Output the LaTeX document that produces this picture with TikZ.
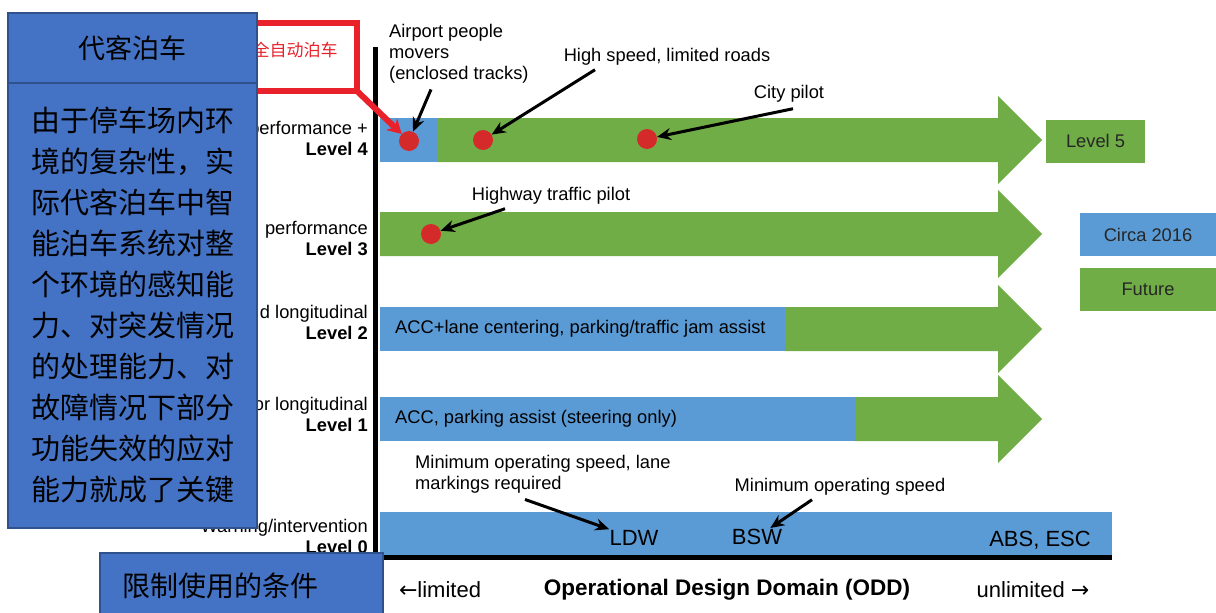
\documentclass[tikz,border=0pt]{standalone}
\usepackage{fontspec}
\setmainfont{Liberation Sans}
\newfontfamily\cjk{Noto Sans CJK SC}
\newfontfamily\symfont{DejaVu Sans}
\usetikzlibrary{arrows.meta,positioning}
\definecolor{barblue}{HTML}{5B9BD5}
\definecolor{bargreen}{HTML}{70AD47}
\definecolor{boxblue}{HTML}{4472C4}
\definecolor{boxedge}{HTML}{2F528F}
\definecolor{dotred}{HTML}{D42A2A}
\definecolor{framered}{HTML}{E8212B}

\begin{document}
\begin{tikzpicture}[
  x=1pt, y=-1pt,
  font=\fontsize{18.3}{21}\selectfont,
  txt/.style={inner sep=0pt, align=left},
  lvl/.style={inner sep=0pt, align=right, anchor=east},
  tag/.style={inner sep=1pt, font=\fontsize{22}{24}\selectfont},
  legend/.style={inner sep=0pt, minimum height=43pt, text=black!85},
  dot/.style={circle, fill=dotred, minimum size=20pt, inner sep=0pt},
  ann/.style={-{Stealth[length=14pt, width=12pt]}, line width=3pt},
  valet/.style={draw=boxedge, line width=2pt, fill=boxblue, inner sep=0pt,
                outer sep=0pt, minimum width=249pt, align=center},
  >={Stealth[length=12pt]}
]
\useasboundingbox (0,0) rectangle (1216,613);

% level labels on the left of the axis
\node[lvl] (lab4) at (368,138) {performance +\\\textbf{Level 4}};
\node[lvl] (lab3) at (368,238) {performance\\\textbf{Level 3}};
\node[lvl] (lab2) at (368,322) {d longitudinal\\\textbf{Level 2}};
\node[lvl] (lab1) at (368,414) {or longitudinal\\\textbf{Level 1}};
\node[lvl] (lab0) at (368,536) {Warning/intervention\\\textbf{Level 0}};

% red frame
\node[txt, text=framered, font=\fontsize{17}{20}\selectfont] (autopark) at (295,50) {\cjk 全自动泊车};
\draw[framered, line width=6pt] (240,23) -- (357,23) -- (357,91) -- (240,91);
\coordinate (redcorner) at (357,91);

% green arrows (future)
\foreach \yc/\xs in {140/437, 234/380, 329/785, 419/855}
  \fill[bargreen] (\xs,\yc-22) -- (998,\yc-22) -- (998,\yc-44) -- (1042,\yc)
    -- (998,\yc+44) -- (998,\yc+22) -- (\xs,\yc+22) -- cycle;

% blue bars (circa 2016)
\fill[barblue] (380,118) rectangle (437,162);
\fill[barblue] (380,307) rectangle (785,351);
\fill[barblue] (380,397) rectangle (855,441);
\fill[barblue] (380,512) rectangle (1112,555);

\node[txt, anchor=west] (acc2) at (395,329) {ACC+lane centering, parking/traffic jam assist};
\node[txt, anchor=west] (acc1) at (395,419) {ACC, parking assist (steering only)};

\node[tag] (ldw) at (634,538) {LDW};
\node[tag] (bsw) at (757,537) {BSW};
\node[tag] (absesc) at (1040,540) {ABS, ESC};

% axes
\draw[line width=5pt] (375,47) -- (375,557) -- (1112,557);

% legend
\node[legend, fill=bargreen, minimum width=99pt] (lev5) at (1095.5,141) {Level 5};
\node[legend, fill=barblue, minimum width=136pt] (circa) at (1148,234.5) {Circa 2016};
\node[legend, fill=bargreen, minimum width=136pt] (future) at (1148,289) {Future};

% examples
\node[dot] (d4a) at (409,141) {};
\node[dot] (d4b) at (483,140) {};
\node[dot] (d4c) at (647,139) {};
\node[dot] (d3a) at (431,234) {};

\node[txt, anchor=north west] (airport) at (389,24) {Airport people\\movers\\(enclosed tracks)};
\node[txt] (highspeed) at (667,57) {High speed, limited roads};
\node[txt] (city) at (789,94) {City pilot};
\node[txt] (highway) at (551,196) {Highway traffic pilot};
\node[txt, anchor=north west] (lanemark) at (415,455) {Minimum operating speed, lane\\markings required};
\node[txt] (minspeed) at (840,487) {Minimum operating speed};

\draw[ann] ([xshift=42pt,yshift=-6pt]airport.south west) -- (d4a);
\draw[ann] ([xshift=-72pt,yshift=-4pt]highspeed.south) -- (d4b);
\draw[ann] ([xshift=4pt,yshift=-6pt]city.south) -- (d4c);
\draw[ann] ([xshift=-46pt,yshift=-4pt]highway.south) -- (d3a);
\draw[ann] ([xshift=110pt,yshift=-6pt]lanemark.south west) -- (ldw);
\draw[ann] ([xshift=-28pt,yshift=-4pt]minspeed.south) -- (bsw);
\draw[framered, line width=6pt, -{Stealth[length=14pt, width=16pt]}] (redcorner) -- (d4a);

% ODD axis labels
\node[txt, font=\fontsize{22}{24}\selectfont] (limited) at (440,590) {{\symfont ←}limited};
\node[txt, font=\fontsize{22.5}{24}\selectfont\bfseries] (odd) at (727,590) {Operational Design Domain (ODD)};
\node[txt, font=\fontsize{22}{24}\selectfont] (unlimited) at (1033,590) {unlimited {\symfont →}};

% valet parking boxes
\node[valet, minimum height=70pt, font=\cjk\fontsize{27}{32}\selectfont] (valettitle) at (132.5,48) {代客泊车};
\node[valet, minimum height=445pt, below=0pt of valettitle,
      font=\cjk\fontsize{29}{41}\selectfont]
  (valetbody) {由于停车场内环\\境的复杂性，实\\际代客泊车中智\\能泊车系统对整\\个环境的感知能\\力、对突发情况\\的处理能力、对\\故障情况下部分\\功能失效的应对\\能力就成了关键};
\node[valet, minimum width=283pt, minimum height=66pt, text width=239pt,
      inner xsep=22pt, align=left, font=\cjk\fontsize{28}{32}\selectfont]
  (limits) at (241.5,586) {限制使用的条件};
\end{tikzpicture}
\end{document}
